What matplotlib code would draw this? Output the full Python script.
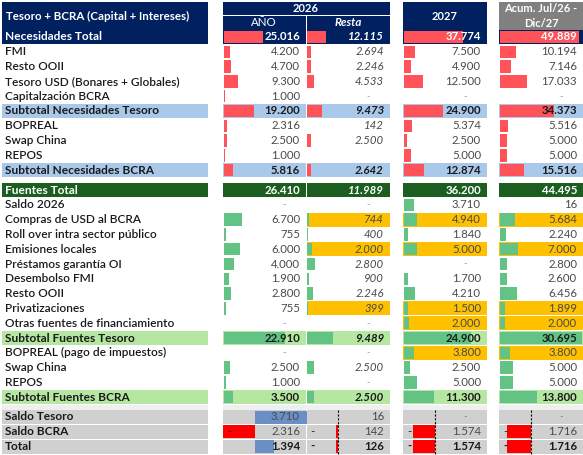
import matplotlib
matplotlib.use("Agg")
import matplotlib.pyplot as plt
from matplotlib.patches import Rectangle

plt.rcParams["font.family"] = ["Lato", "DejaVu Sans"]

# ---- data ----
labels_nec = ["Necesidades Total", "FMI", "Resto OOII", "Tesoro USD (Bonares + Globales)",
              "Capitalzación BCRA", "Subtotal Necesidades Tesoro", "BOPREAL", "Swap China",
              "REPOS", "Subtotal Necesidades BCRA"]
nec_anio = [25016, 4200, 4700, 9300, 1000, 19200, 2316, 2500, 1000, 5816]
nec_resta = [12115, 2694, 2246, 4533, None, 9473, 142, 2500, "", 2642]
nec_2027 = [37774, 7500, 4900, 12500, None, 24900, 5374, 2500, 5000, 12874]
nec_acum = [49889, 10194, 7146, 17033, None, 34373, 5516, 5000, 5000, 15516]

labels_fue = ["Fuentes Total", "Saldo 2026", "Compras de USD al BCRA", "Roll over intra sector público",
              "Emisiones locales", "Préstamos garantía OI", "Desembolso FMI", "Resto OOII",
              "Privatizaciones", "Otras fuentes de financiamiento", "Subtotal Fuentes Tesoro",
              "BOPREAL (pago de impuestos)", "Swap China", "REPOS", "Subtotal Fuentes BCRA"]
fue_anio = [26410, None, 6700, 755, 6000, 4000, 1900, 2800, 755, None, 22910, None, 2500, 1000, 3500]
fue_resta = [11989, None, 744, 400, 2000, 2800, 900, 2246, 399, None, 9489, None, 2500, None, 2500]
fue_2027 = [36200, 3710, 4940, 1840, 5000, None, 1700, 4210, 1500, 2000, 24900, 3800, 2500, 5000, 11300]
fue_acum = [44495, 16, 5684, 2240, 7000, 2800, 2600, 6456, 1899, 2000, 30695, 3800, 5000, 5000, 13800]
# cells highlighted in orange (row index in fuentes, column index)
orange = {(2, 1), (2, 2), (2, 3), (4, 1), (4, 2), (4, 3), (8, 1), (8, 2), (8, 3),
          (9, 2), (9, 3), (11, 2), (11, 3)}

labels_saldo = ["Saldo Tesoro", "Saldo BCRA", "Total"]
saldo_anio = [3710, -2316, 1394]
saldo_resta = [16, -142, -126]
saldo_2027 = [0, -1574, -1574]
saldo_acum = [0, -1716, -1716]

# ---- layout ----
NAVY, GREY_H = "#002060", "#808080"
LBLUE, DGREEN, LGREEN = "#A9C8EA", "#1B5E20", "#B5E6A2"
RED, GREEN, BLUE, ORANGE = "#FF5359", "#63C384", "#6A8FC7", "#FFC000"
SALDO_BG, TXT, NUM = "#D0D0D0", "#1A1A1A", "#4A4A4A"
cols = [(223, 306), (306, 390), (403, 487), (499, 583)]
LBL = (2, 208)
RH = 14.8
FL, FN = 8.6, 8.2   # label / number font sizes

fig = plt.figure(figsize=(5.83, 4.55), dpi=100)
ax = fig.add_axes([0, 0, 1, 1])
ax.set_xlim(0, 583)
ax.set_ylim(455, 0)
ax.axis("off")


def rect(x0, x1, y0, y1, color, **kw):
    ax.add_patch(Rectangle((x0, y0), x1 - x0, y1 - y0, color=color, lw=0, **kw))


def fmt(v):
    return f"{abs(v):,}".replace(",", ".")


# header
rect(LBL[0], LBL[1], 2, 29.5, NAVY)
ax.text(98, 16, "Tesoro + BCRA (Capital + Intereses)", color="white", fontsize=8.3,
        fontweight="bold", ha="center", va="center")
rect(223, 390, 2, 15, NAVY)
ax.text(306, 8.5, "2026", color="white", fontsize=8, fontweight="bold", ha="center", va="center")
rect(223, 305.5, 16, 29.5, NAVY)
rect(306.5, 390, 16, 29.5, NAVY)
ax.text(264, 23, "AÑO", color="white", fontsize=8.3, ha="center", va="center")
ax.text(348, 23, "Resta", color="white", fontsize=8.3, style="italic", fontweight="bold",
        ha="center", va="center")
rect(403, 487, 2, 29.5, NAVY)
ax.text(445, 16, "2027", color="white", fontsize=8, fontweight="bold", ha="center", va="center")
rect(499, 583, 2, 29.5, GREY_H)
ax.text(541, 16, "Acum. Jul/26 -\nDic/27", color="white", fontsize=8, fontweight="bold",
        ha="center", va="center", linespacing=1.4)


def section(y_top, labels, columns, bar_scale, bar_color, total_bg, total_fg, sub_bg,
            total_bars, hl=frozenset()):
    for i, lab in enumerate(labels):
        y0 = y_top + i * RH
        y1 = y0 + RH - 0.8
        yc = (y0 + y1) / 2
        is_total = i == 0
        is_sub = lab.startswith("Subtotal")
        bold = is_total or is_sub
        if is_total:
            rect(LBL[0], LBL[1], y0, y1, total_bg)
        elif is_sub:
            rect(LBL[0], LBL[1], y0, y1, sub_bg)
        ax.text(LBL[0] + 3, yc, lab, fontsize=FL, fontweight="bold" if bold else "semibold",
                color=total_fg if is_total else TXT, va="center")
        for j, (c0, c1) in enumerate(cols):
            v = columns[j][i]
            x0 = c0 + (0.5 if j == 1 else 0)
            x1 = c1 - (0.5 if j == 0 else 0)
            if is_total:
                rect(x0, x1, y0, y1, total_bg)
            elif is_sub:
                rect(x0, x1, y0, y1, sub_bg)
            elif (i, j) in hl:
                rect(x0, x1, y0, y1, ORANGE)
            if v is None:
                ax.text(c1 - 22, yc, "-", fontsize=7, color="#A0A0A0", ha="center", va="center")
                continue
            if v == "":
                continue
            if total_bars or not is_total:
                rect(x0 + 0.5, x0 + 0.5 + v / bar_scale, y0 + 0.8, y1 - 0.8, bar_color)
            ax.text(c1 - 6, yc, fmt(v), fontsize=FN,
                    color=total_fg if is_total else (TXT if bold else NUM),
                    fontweight="bold" if bold else "normal",
                    style="italic" if j == 1 else "normal", ha="right", va="center")


section(30, labels_nec, [nec_anio, nec_resta, nec_2027, nec_acum], 630, RED,
        NAVY, "white", LBLUE, True)
section(183, labels_fue, [fue_anio, fue_resta, fue_2027, fue_acum], 370, GREEN,
        DGREEN, "white", LGREEN, False, orange)

# spacer row
y_sp = 183 + 15 * RH
for x0, x1 in [LBL] + cols:
    rect(x0, x1, y_sp, y_sp + 4.5, "#EFEFEF")

# saldo rows
saldo_cols = [saldo_anio, saldo_resta, saldo_2027, saldo_acum]
y_s = 410
for i, lab in enumerate(labels_saldo):
    y0 = y_s + i * 14.8
    y1 = y0 + 14
    yc = (y0 + y1) / 2
    bold = lab == "Total"
    rect(LBL[0], LBL[1], y0, y1, SALDO_BG)
    ax.text(LBL[0] + 3, yc, lab, fontsize=FL, fontweight="bold", color=TXT, va="center")
    for j, (c0, c1) in enumerate(cols):
        v = saldo_cols[j][i]
        rect(c0 + (0.5 if j == 1 else 0), c1 - (0.5 if j == 0 else 0), y0, y1, SALDO_BG)
        axis_x = c0 + 32
        if v > 0:
            rect(axis_x, axis_x + v / 72, y0 + 0.5, y1 - 0.5, BLUE)
        elif v < 0:
            rect(axis_x + v / 72, axis_x, y0 + 0.5, y1 - 0.5, "#FF0000")
        if j > 0:
            ax.plot([axis_x, axis_x], [y0, y1], color="black", lw=0.8, ls=(0, (2, 1.5)))
        w = "bold" if bold else "normal"
        if v == 0:
            ax.text(c1 - 22, yc, "-", fontsize=7, color="#808080", ha="center", va="center")
            continue
        if v < 0:
            ax.text(c0 + 4, yc, "-", fontsize=FN, color=TXT, fontweight=w, va="center")
        ax.text(c1 - 6, yc, fmt(v), fontsize=FN, color=TXT if bold else NUM, fontweight=w,
                ha="right", va="center")

fig.savefig("out.png", dpi=100)
plt.close(fig)
